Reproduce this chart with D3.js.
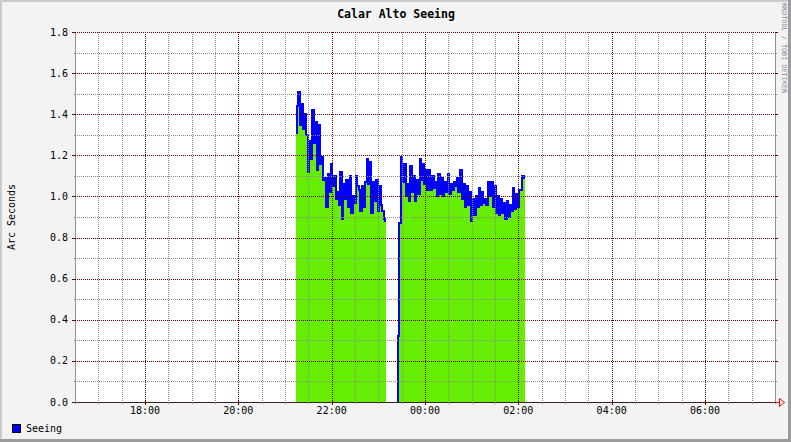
<!DOCTYPE html>
<html><head><meta charset="utf-8">
<script src="https://cdn.jsdelivr.net/npm/d3@7"></script>
<style>html,body{margin:0;padding:0;background:#fff}svg{display:block}</style>
</head><body>
<script>
// ---------- data ----------
const chartTitle = "Calar Alto Seeing";
const yAxisLabel = "Arc Seconds";
const legendLabel = "Seeing";
const creditText = "RRDTOOL / TOBI OETIKER";
const xDomainStart = "2008-01-01T16:30:00Z";
const xDomainEnd = "2008-01-02T07:30:00Z";
const sampleStepMinutes = 2;
const seg1Start = "2008-01-01T21:14:00Z";
const seg1Values = [1.31,1.44,1.51,1.35,1.45,1.33,1.40,1.30,1.12,1.27,
  1.18,1.42,1.26,1.36,1.13,1.35,1.16,1.19,1.08,1.09,
  0.95,1.11,1.02,1.16,1.05,1.10,0.99,1.02,0.96,1.12,
  0.89,1.06,0.99,1.08,0.95,1.10,0.92,1.00,0.97,1.10,
  1.05,1.03,0.93,1.05,0.95,1.07,1.18,1.06,1.17,0.92,
  1.07,0.98,1.08,0.93,1.05,0.96,0.93,0.89,0.88];
const seg2Start = "2008-01-01T23:24:00Z";
const seg2Values = [0.00,0.32,0.87,1.19,1.07,1.16,1.00,1.06,0.98,1.15,
  1.02,1.10,0.98,1.08,1.01,1.18,1.08,1.16,1.06,1.13,
  1.03,1.13,1.03,1.10,1.04,1.07,1.00,1.11,1.01,1.09,
  1.00,1.07,1.02,1.11,1.01,1.06,1.03,1.07,1.05,1.09,
  1.02,1.13,0.99,1.06,0.95,1.05,0.96,1.02,0.88,0.99,
  0.91,1.00,0.95,1.04,0.96,1.02,0.97,0.99,0.96,1.07,
  1.00,1.07,0.95,1.05,0.92,1.00,0.91,0.99,0.92,0.97,
  0.89,0.98,0.90,0.96,0.93,1.04,0.94,1.01,0.95,1.03,
  1.03,1.10,1.09];
const yMajorTicks = [0,0.2,0.4,0.6,0.8,1.0,1.2,1.4,1.6,1.8];
const yMinorTicks = [0.1,0.3,0.5,0.7,0.9,1.1,1.3,1.5,1.7];

// ---------- layout ----------
const W = 791, H = 442;
const L = 75, R = 775, T = 32, B = 402;
const fontMono = "'DejaVu Sans Mono', 'Liberation Mono', monospace";
const cGreen = "#66ee00", cBlue = "#0000ff";
const cMajor = "#700000", cMinor = "#8c8c8c";

const svg = d3.select("body").append("svg").attr("width", W).attr("height", H);

// background and frame
svg.append("rect").attr("x",0).attr("y",0).attr("width",W).attr("height",H).attr("fill","#f3f3f3");
svg.append("rect").attr("x",0).attr("y",0).attr("width",W).attr("height",2).attr("fill","#cbcbcb");
svg.append("rect").attr("x",0).attr("y",0).attr("width",2).attr("height",H).attr("fill","#cbcbcb");
svg.append("rect").attr("x",0).attr("y",H-3).attr("width",W).attr("height",3).attr("fill","#9b9b9b");
svg.append("rect").attr("x",W-3).attr("y",0).attr("width",3).attr("height",H).attr("fill","#9b9b9b");

// plot area
svg.append("rect").attr("x",L).attr("y",T).attr("width",R-L).attr("height",B-T).attr("fill","#fff");

const x = d3.scaleUtc().domain([new Date(xDomainStart), new Date(xDomainEnd)]).range([L, R]);
const y = d3.scaleLinear().domain([0, 1.8]).range([B, T]);

function series(start, values) {
  const t0 = new Date(start).getTime();
  return values.map((v, i) => ({ t: new Date(t0 + i * sampleStepMinutes * 60000), v }));
}
const seg1 = series(seg1Start, seg1Values);
const seg2 = series(seg2Start, seg2Values);

const area = d3.area().curve(d3.curveStep).x(d => x(d.t)).y0(y(0)).y1(d => y(d.v));
const line = d3.line().curve(d3.curveStep).x(d => x(d.t)).y(d => y(d.v));

const dataG = svg.append("g");
[seg1, seg2].forEach(s => {
  dataG.append("path").attr("d", area(s)).attr("fill", cGreen).attr("shape-rendering","crispEdges");
});
[seg1, seg2].forEach(s => {
  dataG.append("path").attr("d", line(s)).attr("fill","none").attr("stroke", cBlue)
    .attr("stroke-width", 2).attr("shape-rendering","crispEdges").attr("stroke-linejoin","miter");
});

// grid (drawn on top, dotted)
const px = v => Math.round(v) + 0.5;
const gridG = svg.append("g").attr("shape-rendering","crispEdges");
const xMajor = x.ticks(d3.utcHour.every(2));
const xMinor = x.ticks(d3.utcMinute.every(30)).filter(d => !(d.getUTCMinutes() === 0 && d.getUTCHours() % 2 === 0));

gridG.selectAll(".ymin").data(yMinorTicks).join("line")
  .attr("x1", L).attr("x2", R).attr("y1", d => px(y(d))).attr("y2", d => px(y(d)))
  .attr("stroke", cMinor).attr("stroke-dasharray","1,1");
gridG.selectAll(".xmin").data(xMinor).join("line")
  .attr("y1", T).attr("y2", B).attr("x1", d => px(x(d))).attr("x2", d => px(x(d)))
  .attr("stroke", cMinor).attr("stroke-dasharray","1,1");
gridG.selectAll(".ymaj").data(yMajorTicks).join("line")
  .attr("x1", L).attr("x2", R).attr("y1", d => px(y(d))).attr("y2", d => px(y(d)))
  .attr("stroke", cMajor).attr("stroke-dasharray","1,1");
gridG.selectAll(".xmaj").data(xMajor).join("line")
  .attr("y1", T).attr("y2", B).attr("x1", d => px(x(d))).attr("x2", d => px(x(d)))
  .attr("stroke", cMajor).attr("stroke-dasharray","1,1");

// axes lines
const axG = svg.append("g").attr("shape-rendering","crispEdges");
axG.append("line").attr("x1", L+0.5).attr("x2", L+0.5).attr("y1", T).attr("y2", B).attr("stroke","#909090");
axG.append("line").attr("x1", R+0.5).attr("x2", R+0.5).attr("y1", T).attr("y2", B).attr("stroke","#909090");
// ticks left/right
axG.selectAll(".tl").data(yMajorTicks).join("line")
  .attr("x1", L-3).attr("x2", L+1).attr("y1", d => px(y(d))).attr("y2", d => px(y(d))).attr("stroke", cMajor);
axG.selectAll(".tr").data(yMajorTicks).join("line")
  .attr("x1", R).attr("x2", R+3).attr("y1", d => px(y(d))).attr("y2", d => px(y(d))).attr("stroke", cMajor);
axG.selectAll(".tlm").data(yMinorTicks).join("line")
  .attr("x1", L-1).attr("x2", L+1).attr("y1", d => px(y(d))).attr("y2", d => px(y(d))).attr("stroke", cMinor);
axG.selectAll(".trm").data(yMinorTicks).join("line")
  .attr("x1", R).attr("x2", R+2).attr("y1", d => px(y(d))).attr("y2", d => px(y(d))).attr("stroke", cMinor);
// x axis
axG.append("line").attr("x1", L).attr("x2", R+4).attr("y1", B+0.5).attr("y2", B+0.5).attr("stroke","#3a2020");
axG.selectAll(".tb").data(xMajor).join("line")
  .attr("x1", d => px(x(d))).attr("x2", d => px(x(d))).attr("y1", B-1).attr("y2", B+3).attr("stroke", cMajor);
axG.selectAll(".tbm").data(xMinor).join("line")
  .attr("x1", d => px(x(d))).attr("x2", d => px(x(d))).attr("y1", B).attr("y2", B+2).attr("stroke", cMinor);
// arrow
axG.append("line").attr("x1", R).attr("x2", R+5).attr("y1", B+0.5).attr("y2", B+0.5).attr("stroke","#ff0000");
svg.append("path").attr("d", `M${R+4.5},${B-3.5} L${R+9.5},${B+0.5} L${R+4.5},${B+4.5} Z`)
  .attr("fill","none").attr("stroke","#ff0000").attr("stroke-width",1);

// labels
const fmtY = d3.format(".1f");
svg.selectAll(".ylab").data(yMajorTicks).join("text")
  .attr("x", 68).attr("y", d => y(d)).attr("dy","0.35em").attr("text-anchor","end")
  .attr("font-family", fontMono).attr("font-size", 10).attr("fill","#000").text(d => fmtY(d));
const fmtX = d3.utcFormat("%H:%M");
svg.selectAll(".xlab").data(xMajor).join("text")
  .attr("x", d => x(d)).attr("y", 414).attr("text-anchor","middle")
  .attr("font-family", fontMono).attr("font-size", 10).attr("fill","#000").text(d => fmtX(d));

svg.append("text").attr("x", 396).attr("y", 18).attr("text-anchor","middle")
  .attr("font-family", fontMono).attr("font-size", 11.5).attr("font-weight","bold").attr("fill","#000").text(chartTitle);

svg.append("text").attr("transform", "translate(15,217) rotate(-90)").attr("text-anchor","middle")
  .attr("font-family", fontMono).attr("font-size", 10).attr("fill","#000").text(yAxisLabel);

svg.append("text").attr("transform", "translate(782,48) rotate(90)").attr("text-anchor","middle")
  .attr("font-family", fontMono).attr("font-size", 6.8).attr("fill","#888888").text(creditText);

// legend
svg.append("rect").attr("x", 12.5).attr("y", 424.5).attr("width", 8).attr("height", 8)
  .attr("fill", cBlue).attr("stroke","#000").attr("shape-rendering","crispEdges");
svg.append("text").attr("x", 26).attr("y", 432).attr("font-family", fontMono).attr("font-size", 10)
  .attr("fill","#000").text(legendLabel);
</script>
</body></html>
